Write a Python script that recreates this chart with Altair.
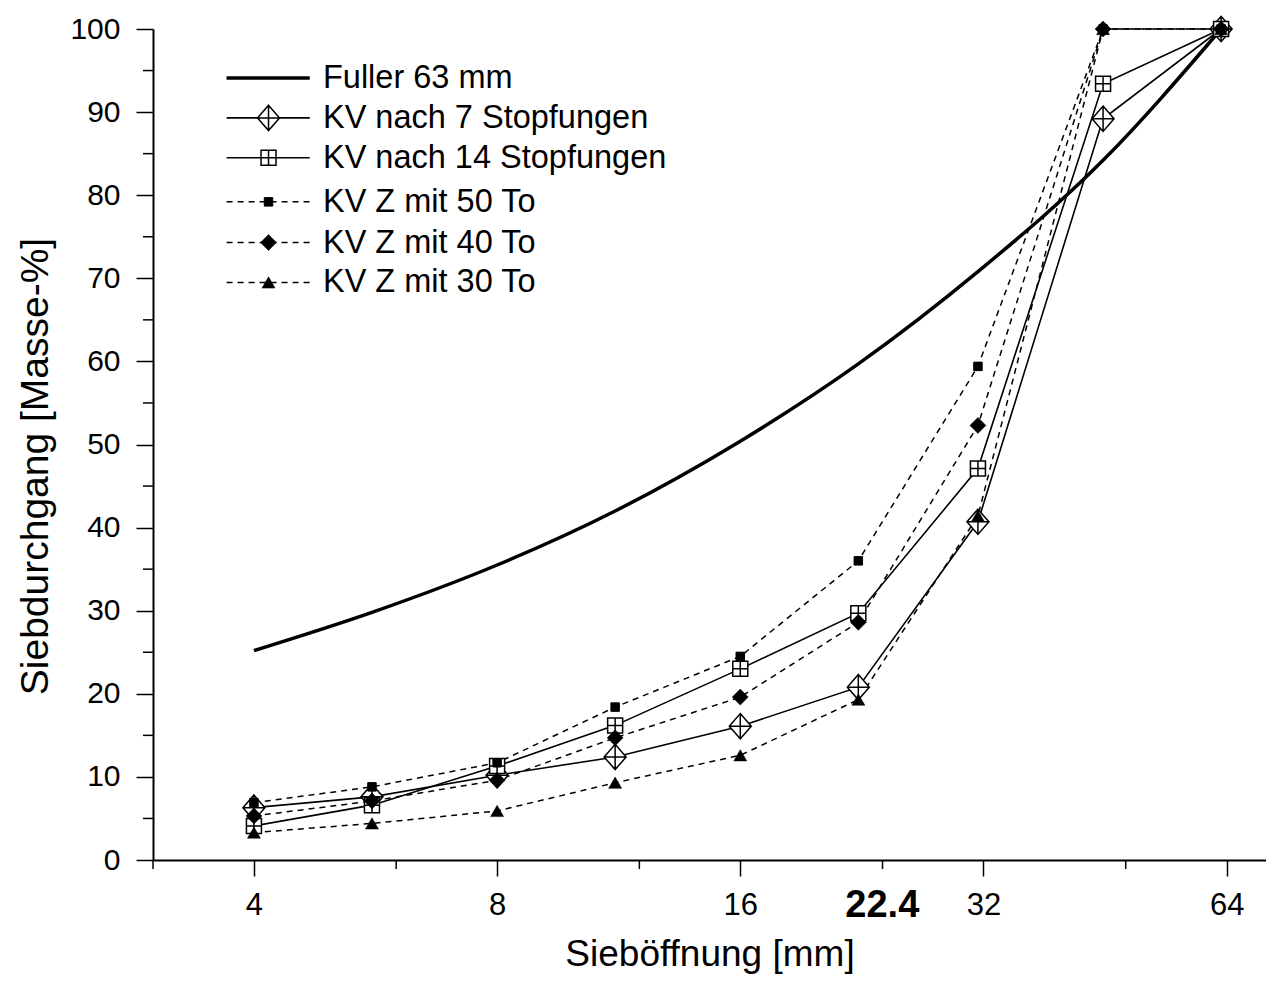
import altair as alt
import pandas as pd

# ---------------- data ----------------
sizes = [4, 5.6, 8, 11.2, 16, 22.4, 31.5, 45, 63]
fuller = [25.2, 29.8, 35.5, 42.0, 50.4, 59.7, 70.8, 84.2, 100]
kv7 = [6.3, 7.6, 10.2, 12.4, 16.1, 20.8, 40.7, 89.2, 100]
kv14 = [4.1, 6.6, 11.3, 16.2, 23.0, 29.7, 47.1, 93.4, 100]
z50 = [6.9, 8.8, 11.7, 18.4, 24.5, 36.0, 59.4, 100, 100]
z40 = [5.3, 7.1, 9.6, 14.7, 19.6, 28.6, 52.3, 100, 100]
z30 = [3.3, 4.4, 5.9, 9.3, 12.6, 19.3, 41.4, 100, 100]

labels = ["Fuller 63 mm", "KV nach 7 Stopfungen", "KV nach 14 Stopfungen",
          "KV Z mit 50 To", "KV Z mit 40 To", "KV Z mit 30 To"]

x_major = [4, 8, 16, 32, 64]
x_minor = [3, 6, 12, 24, 48]
y_major = [0, 10, 20, 30, 40, 50, 60, 70, 80, 90, 100]
y_minor = [5, 15, 25, 35, 45, 55, 65, 75, 85, 95]

# legend placement (in data coordinates of the plot)
legend_rows = [94.1, 89.3, 84.5, 79.2, 74.3, 69.5]
legend_x0, legend_x1, legend_xm, legend_xt = 3.70, 4.69, 4.17, 4.87

# ---------------- styles ----------------
W, H = 1113, 831
FONT = "Liberation Sans"
DIAMOND_CROSS = "M0,-1.15L1,0L0,1.15L-1,0Z M0,-1.15L0,1.15 M-1,0L1,0"
SQUARE_CROSS = "M-1,-1L1,-1L1,1L-1,1Z M0,-1L0,1 M-1,0L1,0"

styles = [
    dict(width=3.5, dash=None, shape=None),
    dict(width=1.6, dash=None, shape=dict(shape=DIAMOND_CROSS, size=484, fill="white", strokeWidth=1.5)),
    dict(width=1.6, dash=None, shape=dict(shape=SQUARE_CROSS, size=225, fill="white", strokeWidth=1.5)),
    dict(width=1.5, dash=[6, 5], shape=dict(shape="square", size=72, fill="black", strokeWidth=1)),
    dict(width=1.5, dash=[6, 5], shape=dict(shape="diamond", size=256, fill="black", strokeWidth=0.5)),
    dict(width=1.5, dash=[6, 5], shape=dict(shape="triangle-up", size=170, fill="black", strokeWidth=0.5)),
]
series = [fuller, kv7, kv14, z50, z40, z30]

xscale = alt.Scale(type="log", base=2, domain=[3, 71.6], nice=False)
yscale = alt.Scale(domain=[0, 100], nice=False, zero=True)

xaxis = alt.Axis(values=x_major, tickSize=16, labelPadding=14, labelFontSize=31,
                 title="Sieböffnung [mm]", titleFontSize=37, titleFontWeight="normal",
                 titleBaseline="alphabetic", titleY=105, labelFlush=False, labelOverlap=False,
                 format="d")
yaxis = alt.Axis(values=y_major, tickSize=17, labelPadding=16, labelFontSize=30,
                 title="Siebdurchgang [Masse-%]", titleFontSize=39, titleFontWeight="normal",
                 titleBaseline="alphabetic", titleX=-106, titleY=437, titleAngle=-90,
                 labelFlush=False, labelOverlap=False)

X = alt.X("x:Q", scale=xscale, axis=xaxis)
Y = alt.Y("y:Q", scale=yscale, axis=yaxis)

layers = []

# series lines
for vals, st in zip(series, styles):
    df = pd.DataFrame({"x": sizes, "y": vals})
    kw = dict(color="black", strokeWidth=st["width"])
    if st["dash"]:
        kw["strokeDash"] = st["dash"]
    if st["shape"] is None:
        kw["interpolate"] = "monotone"
    layers.append(alt.Chart(df).mark_line(**kw).encode(x=X, y=Y))

# series markers
for vals, st in zip(series, styles):
    if st["shape"] is None:
        continue
    df = pd.DataFrame({"x": sizes, "y": vals})
    s = st["shape"]
    layers.append(alt.Chart(df).mark_point(
        shape=s["shape"], size=s["size"], fill=s["fill"], fillOpacity=1, filled=True,
        stroke="black", strokeWidth=s["strokeWidth"], opacity=1
    ).encode(x=X, y=Y))

# legend
for lab, row, st in zip(labels, legend_rows, styles):
    ldf = pd.DataFrame({"x": [legend_x0], "x2": [legend_x1], "y": [row]})
    kw = dict(color="black", strokeWidth=st["width"])
    if st["dash"]:
        kw["strokeDash"] = st["dash"]
    layers.append(alt.Chart(ldf).mark_rule(**kw).encode(x=X, x2="x2:Q", y=Y))
    if st["shape"] is not None:
        s = st["shape"]
        pdf = pd.DataFrame({"x": [legend_xm], "y": [row]})
        layers.append(alt.Chart(pdf).mark_point(
            shape=s["shape"], size=s["size"], fill=s["fill"], fillOpacity=1, filled=True,
            stroke="black", strokeWidth=s["strokeWidth"], opacity=1
        ).encode(x=X, y=Y))
    tdf = pd.DataFrame({"x": [legend_xt], "y": [row], "t": [lab]})
    layers.append(alt.Chart(tdf).mark_text(
        align="left", baseline="middle", fontSize=32.5, font=FONT, color="black"
    ).encode(x=X, y=Y, text="t:N"))

# minor ticks
xm = pd.DataFrame({"x": x_minor})
layers.append(alt.Chart(xm).mark_rule(color="black", strokeWidth=1.5).encode(
    x=X, y=alt.value(H), y2=alt.value(H + 9)))
ym = pd.DataFrame({"y": y_minor})
layers.append(alt.Chart(ym).mark_rule(color="black", strokeWidth=1.5).encode(
    y=Y, x=alt.value(-10), x2=alt.value(0)))

# bold 22.4 label
bdf = pd.DataFrame({"x": [22.4], "y": [0], "t": ["22.4"]})
layers.append(alt.Chart(bdf).mark_text(
    align="center", baseline="middle", fontSize=38, fontWeight="bold", font=FONT,
    color="black", dx=24, dy=46
).encode(x=X, y=Y, text="t:N"))

chart = alt.layer(*layers).properties(
    width=W, height=H,
    autosize=alt.AutoSizeParams(type="none"),
    padding={"left": 145, "top": 21, "right": 0, "bottom": 114},
    background="white",
).configure_view(strokeWidth=0).configure_axis(
    grid=False, domainColor="black", domainWidth=2, tickColor="black", tickWidth=1.5,
    labelColor="black", titleColor="black", labelFont=FONT, titleFont=FONT,
)

chart.save("out.html", embed_options={"renderer": "svg", "actions": False})
